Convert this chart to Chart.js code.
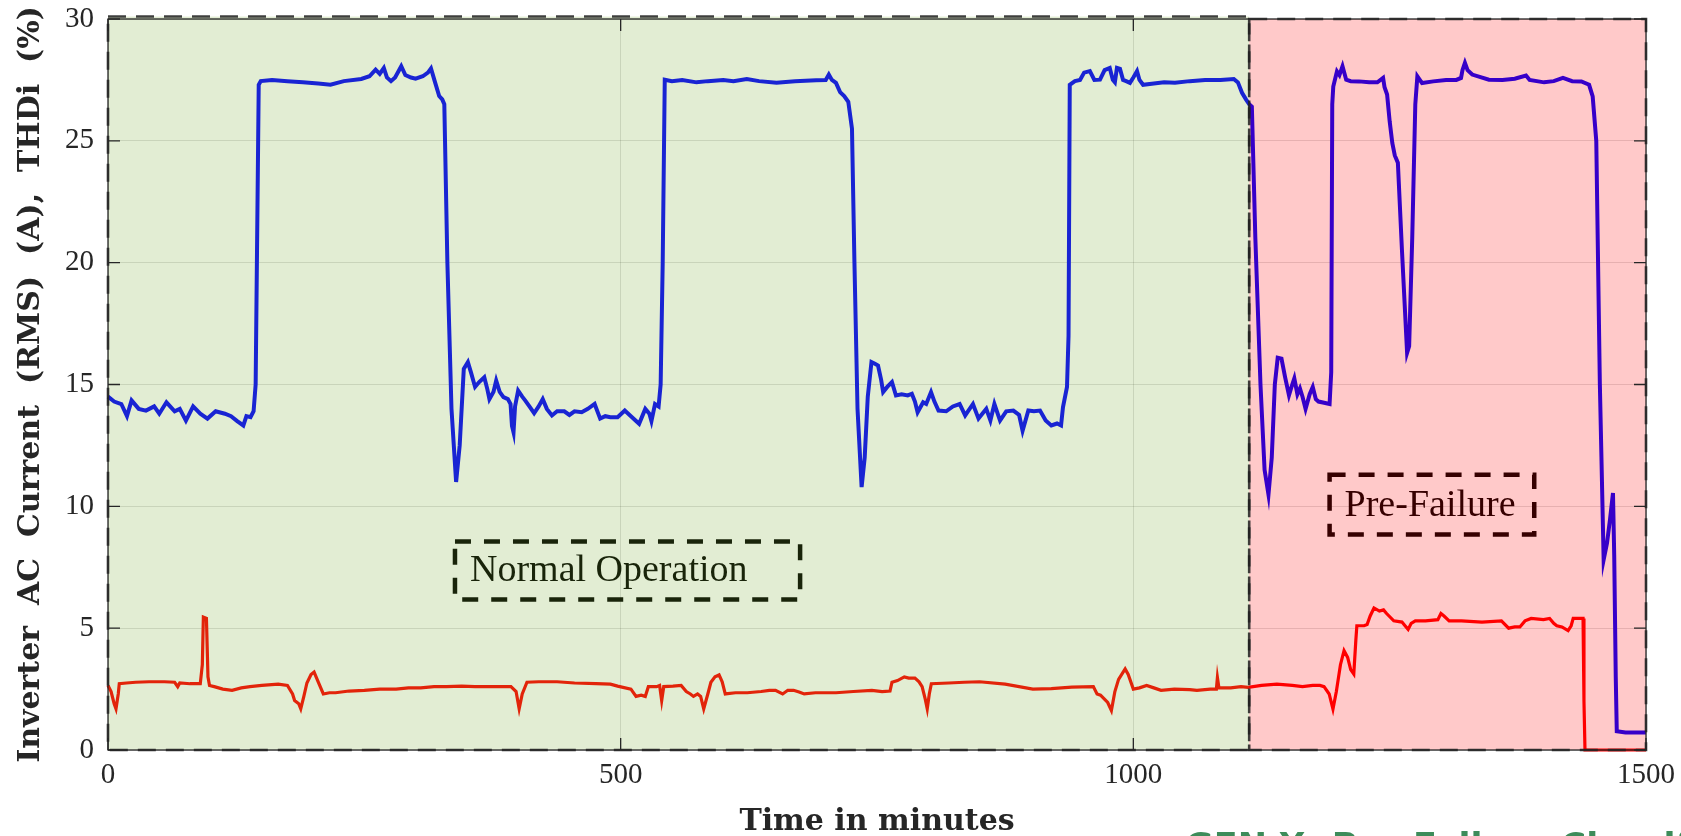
<!DOCTYPE html>
<html><head><meta charset="utf-8">
<script src="https://cdn.jsdelivr.net/npm/chart.js@4.4.1/dist/chart.umd.min.js"></script>
<style>html,body{margin:0;padding:0;background:#fff;overflow:hidden}#wrap{width:1681px;height:836px}</style>
</head><body><div id="wrap"><canvas id="c" width="1681" height="836"></canvas></div>
<script>
// ---- data (time in minutes) ----
const currentTime = [0,6,13,18.5,23,30,37,45,50,57,65,70,76,83,90,97,105,114,120,126,132,135,139,142,144,147,149,160,175,190,205,217,230,247,255,261,265,269,272,276,280,286,290,295.5,300,307,312,315,319,323,326,328,331,335,339.5,343,347,351,354,358,362,367,370,372,376,378.6,382,385.7,390,392.6,394,395.5,397,400,404,407,411,415.6,420,424,428,433,438,445,450,455,462,468,474.6,480,485,490,497,504,510,518,524,528,530,533.5,537,539,541,543,550,560,574,585,600,610,623,635,652,670,690.6,700,703,706,710,714,718,722,725.6,728,731,735,738,741,744.6,748,751,754,756,760,764.6,768.5,774,780,784,787,789.6,795,798,802.7,806,810,817.5,824,830.6,836,843.6,849,856.6,860.6,864.5,870,876,883,888.6,892,897.6,903,909,914.5,920,925.6,929.5,931.4,935.3,936.8,938,943,948,952,957.6,962,967.5,972,977,980,982,984,987,990,993,996.7,1000,1003.6,1006,1009.5,1020,1030,1040.6,1055,1070,1085,1098,1102,1106,1110,1113,1115.6,1119,1124,1128,1131.8,1135,1138,1140.8,1144.5,1148,1151.8,1155,1157,1160,1162.5,1165,1168,1172,1175,1178,1180.6,1186,1191.4,1193,1194,1195,1198.6,1201,1204,1207.6,1212,1220,1230,1238,1243.6,1245,1247.5,1250,1252.6,1255,1258,1262,1267,1269,1272,1275,1277,1281.6,1292.5,1305,1315,1319.6,1321,1323.4,1326,1330.5,1346.8,1360,1372,1383,1386.5,1400.6,1410,1419,1428,1437,1444.5,1448,1451.5,1455,1458.7,1462,1465,1467.8,1469,1470.5,1471.5,1480,1490,1500];
const currentRms = [14.5,14.3,14.2,13.7,14.35,14.0,13.93,14.1,13.8,14.27,13.9,14.0,13.52,14.1,13.8,13.6,13.9,13.8,13.7,13.5,13.32,13.7,13.66,13.9,15,27.3,27.45,27.5,27.45,27.4,27.35,27.3,27.45,27.54,27.65,27.92,27.75,27.99,27.6,27.45,27.6,28.06,27.7,27.6,27.55,27.65,27.8,27.97,27.4,26.84,26.7,26.5,20,14,11.0,12.5,15.64,15.92,15.5,14.9,15.1,15.3,14.8,14.4,14.7,15.16,14.7,14.48,14.4,14.2,13.3,13.04,14.1,14.75,14.5,14.34,14.1,13.82,14.1,14.4,14.0,13.73,13.9,13.9,13.75,13.9,13.86,14.0,14.2,13.6,13.7,13.66,13.66,13.93,13.7,13.39,14.0,13.8,13.5,14.2,14.1,15,20,27.51,27.45,27.5,27.4,27.45,27.5,27.45,27.54,27.45,27.38,27.45,27.49,27.5,27.72,27.5,27.38,27.0,26.84,26.6,25.5,20,14,10.79,12,14.5,15.92,15.85,15.78,15.2,14.69,14.9,15.1,14.55,14.6,14.55,14.62,14.3,13.86,14.27,14.2,14.69,14.3,13.93,13.9,14.1,14.2,13.73,14.2,13.6,14.0,13.52,14.2,13.52,13.9,13.93,13.75,13.1,13.93,13.9,13.93,13.52,13.32,13.4,13.32,14.07,14.9,17,27.3,27.45,27.5,27.8,27.86,27.5,27.51,27.9,27.99,27.5,27.4,27.99,27.95,27.5,27.45,27.38,27.6,27.86,27.5,27.3,27.35,27.4,27.38,27.45,27.5,27.5,27.54,27.4,26.97,26.69,26.5,26.4,21,15,11.5,10.48,12,15,16.1,16.06,15.3,14.56,15.0,15.25,14.6,14.84,14.5,14.0,14.6,14.9,14.4,14.3,14.25,14.2,15.5,26.5,27.23,27.85,27.7,28.06,27.51,27.45,27.44,27.4,27.4,27.58,27.2,26.9,25.8,24.9,24.4,24.1,20.5,16.3,16.57,21,26.5,27.65,27.37,27.44,27.5,27.5,27.58,27.9,28.2,27.9,27.72,27.51,27.5,27.55,27.68,27.5,27.4,27.45,27.58,27.45,27.44,27.3,26.82,25,15,7.81,8.5,9.5,10.55,8,3,0.77,0.72,0.72,0.72];
const thdTime = [0,3,6,7.8,10,11,18,27,40,55,65,68,70,80,90,92,93,96,97.5,99,103.6,112,121,130,138.5,150,166,175,180,182,186,188,191,194,198,201,205,210,216,222,235,250,265,281,293,305,318,330,345,358,375,393,398,401,404,408.6,420,438,455,476,490,497,510,515,520,524,527,529,535,538,540,542,551,559,564,568,571,575,578,581,585,588,592,596,599,602,612,623.5,637,645,651,658,663,668.6,674,679,690,700,710,727,745,755,762.7,764.6,770,776.6,781,787,791,794,797,799,801,803,820,835,850,875,902,920,940,961,964.6,968,971.6,975,978.6,982,985.6,992,995,1000,1006,1013,1020,1027,1040,1055,1062,1075,1081,1082,1083.5,1095,1105,1112,1125,1140,1155,1165,1175,1182,1186,1191,1194.7,1198,1202,1205.5,1209,1212,1215,1217,1218,1225,1228,1231,1234.7,1240,1244,1247,1254,1262,1265,1268,1271,1275,1285,1297,1300,1303,1308,1320,1340,1359,1366,1372,1377,1382,1388,1400,1406,1410,1413,1418,1424,1427,1429,1438.6,1439.5,1440.5,1460,1480,1500];
const thdValue = [2.65,2.4,1.9,1.69,2.3,2.72,2.75,2.78,2.8,2.8,2.78,2.6,2.75,2.72,2.72,3.5,5.45,5.4,3,2.65,2.6,2.5,2.45,2.55,2.6,2.65,2.7,2.65,2.3,2.03,1.9,1.69,2.2,2.75,3.1,3.2,2.8,2.3,2.35,2.35,2.42,2.45,2.5,2.5,2.55,2.55,2.6,2.6,2.62,2.6,2.6,2.6,2.4,1.69,2.3,2.78,2.8,2.8,2.75,2.72,2.7,2.62,2.5,2.2,2.25,2.2,2.6,2.6,2.6,2.65,2.03,2.6,2.62,2.65,2.4,2.3,2.2,2.3,2.2,1.69,2.3,2.78,3.0,3.08,2.8,2.3,2.35,2.35,2.4,2.45,2.45,2.3,2.45,2.45,2.38,2.3,2.35,2.35,2.35,2.4,2.45,2.4,2.42,2.78,2.85,3.0,2.95,2.95,2.8,2.6,2.1,1.69,2.3,2.72,2.75,2.78,2.8,2.7,2.5,2.52,2.58,2.6,2.3,2.25,2.1,1.95,1.62,2.4,2.9,3.33,3.1,2.5,2.55,2.65,2.55,2.45,2.5,2.48,2.45,2.5,2.5,2.98,2.55,2.55,2.6,2.57,2.65,2.7,2.65,2.6,2.65,2.65,2.6,2.3,1.68,2.4,3.5,4.08,3.8,3.3,3.12,4.5,5.1,5.1,5.15,5.5,5.83,5.7,5.75,5.6,5.3,5.25,5.1,4.95,5.2,5.3,5.3,5.35,5.6,5.5,5.3,5.3,5.25,5.3,5.0,5.05,5.05,5.3,5.4,5.35,5.4,5.2,5.1,5.05,4.9,5.1,5.4,5.4,2,0,0,0,0];
const xTickValues = [0,500,1000,1500];
const yTickValues = [0,5,10,15,20,25,30];
// shaded operating regions [start, end] in minutes
const regionNames = ['Normal Operation','Pre-Failure'];
const regionStart = [0,1113];
const regionEnd = [1113,1500];
const regionTop = [30.1,30];
// annotation text boxes (data units)
const boxX0 = [338.4,1191.4], boxX1 = [675,1391], boxY0 = [6.18,8.84], boxY1 = [8.56,11.3];

const toPts = (xs,ys)=>xs.map((x,i)=>({x, y: ys[i]}));

const overlay = {
  id:'overlay',
  afterDatasetsDraw(chart){
    const {ctx, chartArea:a, scales:{x,y}} = chart;
    ctx.save();
    // annotation boxes + labels (drawn below the translucent patches)
    for(let i=0;i<regionNames.length;i++){
      const l=x.getPixelForValue(boxX0[i]), r=x.getPixelForValue(boxX1[i]);
      const t=y.getPixelForValue(boxY1[i]), b=y.getPixelForValue(boxY0[i]);
      ctx.setLineDash([16,13]); ctx.lineWidth=4.5; ctx.strokeStyle='#000';
      ctx.strokeRect(l,t,r-l,b-t);
      ctx.setLineDash([]);
      ctx.fillStyle='#000'; ctx.font='38px "Liberation Serif"';
      ctx.textAlign='left'; ctx.textBaseline='middle';
      ctx.fillText(regionNames[i], l+15, (t+b)/2+1);
    }
    // translucent region patches
    const fills=['rgba(119,172,48,0.21)','rgba(255,0,0,0.21)'];
    for(let i=0;i<2;i++){
      const l=x.getPixelForValue(regionStart[i]), r=x.getPixelForValue(regionEnd[i]);
      const t=y.getPixelForValue(regionTop[i]), b=y.getPixelForValue(0);
      ctx.fillStyle=fills[i]; ctx.fillRect(l,t,r-l,b-t);
    }
    for(let i=0;i<2;i++){
      const l=x.getPixelForValue(regionStart[i]), r=x.getPixelForValue(regionEnd[i]);
      const t=y.getPixelForValue(regionTop[i]), b=y.getPixelForValue(0);
      ctx.setLineDash([18,10]); ctx.lineWidth=2.6; ctx.strokeStyle='rgba(30,30,30,0.85)';
      ctx.strokeRect(l,t,r-l,b-t);
    }
    ctx.setLineDash([]);
    // axes box and inward ticks
    ctx.strokeStyle='#262626'; ctx.lineWidth=1.3;
    ctx.strokeRect(a.left,a.top,a.right-a.left,a.bottom-a.top);
    ctx.beginPath();
    xTickValues.forEach(v=>{const p=x.getPixelForValue(v);
      ctx.moveTo(p,a.bottom); ctx.lineTo(p,a.bottom-12);
      ctx.moveTo(p,a.top); ctx.lineTo(p,a.top+12);});
    yTickValues.forEach(v=>{const p=y.getPixelForValue(v);
      ctx.moveTo(a.left,p); ctx.lineTo(a.left+12,p);
      ctx.moveTo(a.right,p); ctx.lineTo(a.right-12,p);});
    ctx.stroke();
    // clipped caption at the bottom edge
    ctx.fillStyle='#3d8c5a'; ctx.font='bold 35px "DejaVu Sans"';
    ctx.textAlign='left'; ctx.textBaseline='alphabetic';
    ctx.fillText('GEN-X: Pre-Failure Classification', 1185, 858);
    ctx.restore();
  }
};

new Chart(document.getElementById('c'), {
  type:'line',
  data:{datasets:[
    {label:'Inverter AC Current (RMS)', data:toPts(currentTime,currentRms), borderColor:'#0000ff', borderWidth:4, pointRadius:0, tension:0, clip:6},
    {label:'THDi', data:toPts(thdTime,thdValue), borderColor:'#ff0000', borderWidth:3.2, pointRadius:0, tension:0, clip:6}
  ]},
  options:{
    responsive:false, animation:false, devicePixelRatio:1,
    layout:{padding:{left:0,right:35,top:19,bottom:0}},
    plugins:{legend:{display:false}, tooltip:{enabled:false}},
    scales:{
      x:{type:'linear', min:0, max:1500,
        afterBuildTicks:s=>{s.ticks=xTickValues.map(v=>({value:v}));},
        afterFit:s=>{s.height=86; s.paddingLeft=0; s.paddingRight=0;},
        ticks:{font:{family:'Liberation Serif', size:29}, color:'#262626', padding:8, maxRotation:0, callback:v=>String(v)},
        grid:{color:'rgba(38,38,38,0.15)', lineWidth:1, drawTicks:false},
        border:{display:false},
        title:{display:true, text:'Time in minutes', color:'#262626', font:{family:'DejaVu Serif', weight:'bold', size:30, lineHeight:0.9}, padding:{top:0,bottom:0}}},
      y:{min:0, max:30,
        afterBuildTicks:s=>{s.ticks=yTickValues.map(v=>({value:v}));},
        afterFit:s=>{s.width=108; s.paddingTop=0; s.paddingBottom=0;},
        ticks:{font:{family:'Liberation Serif', size:29}, color:'#262626', padding:14, callback:v=>String(v)},
        grid:{color:'rgba(38,38,38,0.15)', lineWidth:1, drawTicks:false},
        border:{display:false},
        title:{display:true, text:'Inverter  AC  Current  (RMS)  (A),  THDi  (%)', color:'#262626', font:{family:'DejaVu Serif', weight:'bold', size:30}, padding:{top:13,bottom:0}}}
    }
  },
  plugins:[overlay]
});
</script></body></html>
